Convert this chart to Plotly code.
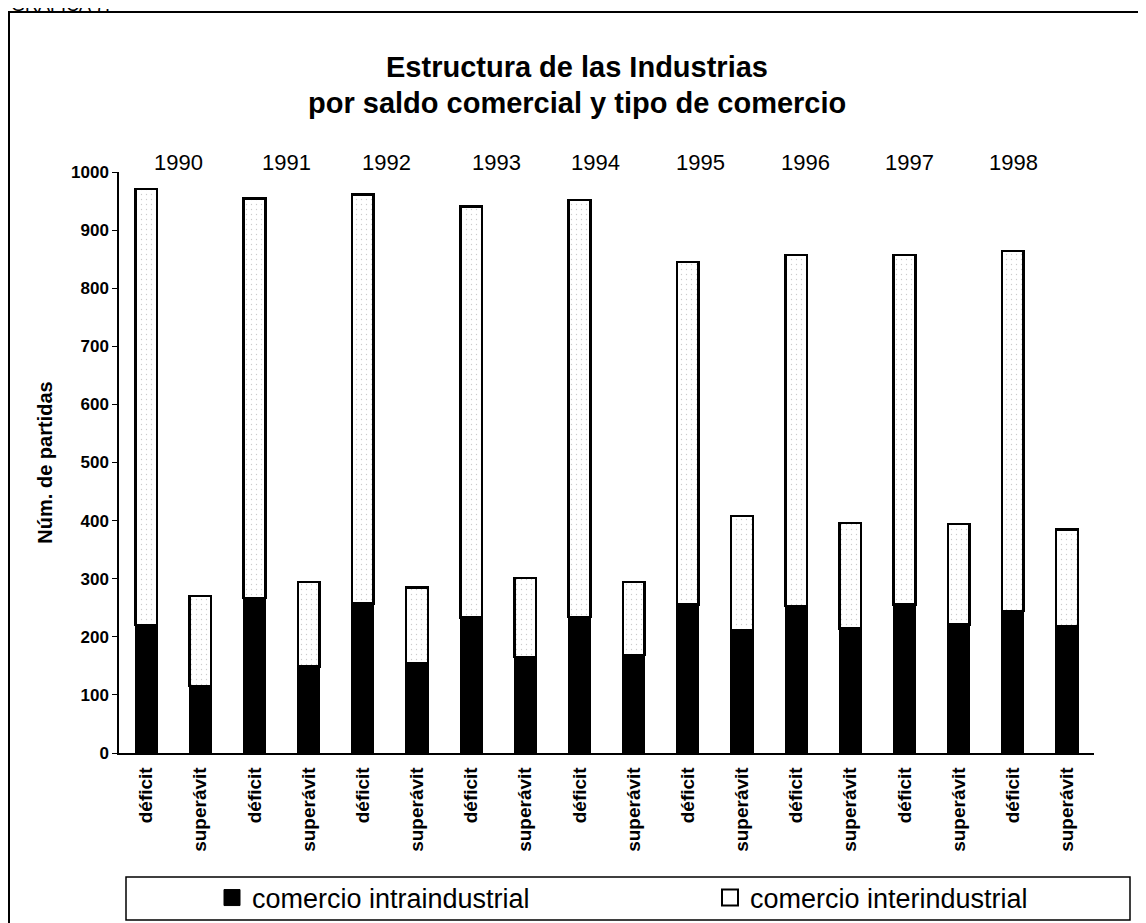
import plotly.graph_objects as go

years = ["1990", "1991", "1992", "1993", "1994", "1995", "1996", "1997", "1998"]
saldo = ["déficit", "superávit"]

# valores (número de partidas)
deficit_intra = [220, 267, 257, 233, 234, 256, 253, 256, 244]
deficit_inter = [751, 687, 704, 708, 718, 589, 604, 601, 620]
superavit_intra = [115, 149, 154, 165, 169, 211, 214, 221, 219]
superavit_inter = [155, 145, 131, 136, 125, 197, 182, 173, 166]

series_names = ["comercio intraindustrial", "comercio interindustrial"]
y_ticks = [0, 100, 200, 300, 400, 500, 600, 700, 800, 900, 1000]

FONT = "Arial, Liberation Sans, sans-serif"

# category order: déficit / superávit for each year
labels = []
intra = []
inter = []
for i in range(len(years)):
    labels += saldo
    intra += [deficit_intra[i], superavit_intra[i]]
    inter += [deficit_inter[i], superavit_inter[i]]
xpos = list(range(len(labels)))

# page is shown with an 8px body margin -> figure coords = page coords - 8
OFF = 8
W, H = 1146 - OFF, 923 - OFF
L, R, T, B = 119 - OFF, 1094 - OFF, 172 - OFF, 753 - OFF
pw, ph = R - L, B - T


def px_x(p):
    return (p - OFF - L) / pw


def px_y(p):
    return (B - (p - OFF)) / ph


fig = go.Figure()
fig.add_trace(go.Bar(
    x=xpos, y=intra, name=series_names[0], width=0.40, showlegend=False,
    marker=dict(color="black", line=dict(color="black", width=1.5)),
))
fig.add_trace(go.Bar(
    x=xpos, y=inter, name=series_names[1], width=0.40, showlegend=False,
    marker=dict(color="white", line=dict(color="black", width=2.5),
                pattern=dict(shape=".", fgcolor="#999999", bgcolor="white",
                             size=5, solidity=0.06, fillmode="overlay")),
))
# legend entries (square swatches)
fig.add_trace(go.Scatter(
    x=[None], y=[None], mode="markers", name=series_names[0], legend="legend",
    marker=dict(symbol="square", size=17, color="black", line=dict(color="black", width=1)),
))
fig.add_trace(go.Scatter(
    x=[None], y=[None], mode="markers", name=series_names[1], legend="legend2",
    marker=dict(symbol="square", size=16, color="white", line=dict(color="black", width=2)),
))

# year labels above the bars (x in category units)
year_offsets = [0.59, 0.59, 0.44, 0.46, 0.30, 0.24, 0.17, 0.09, 0.02]
annotations = []
for i, yr in enumerate(years):
    annotations.append(dict(
        x=2 * i + year_offsets[i], y=px_y(163), xref="x", yref="paper",
        text=yr, showarrow=False, xanchor="center", yanchor="middle",
        font=dict(family=FONT, size=22, color="black"),
    ))

# title
annotations.append(dict(
    x=px_x(577), y=px_y(67), xref="paper", yref="paper",
    text="<b>Estructura de las Industrias</b>", showarrow=False,
    xanchor="center", yanchor="middle",
    font=dict(family=FONT, size=29, color="black"),
))
annotations.append(dict(
    x=px_x(577), y=px_y(103), xref="paper", yref="paper",
    text="<b>por saldo comercial y tipo de comercio</b>", showarrow=False,
    xanchor="center", yanchor="middle",
    font=dict(family=FONT, size=29, color="black"),
))
# header cut at the top edge (as in the scan)
annotations.append(dict(
    x=px_x(9), y=px_y(5), xref="paper", yref="paper",
    text="GRÁFICA 7.", showarrow=False,
    xanchor="left", yanchor="middle",
    font=dict(family=FONT, size=18, color="black"),
))

shapes = [
    # outer frame (right and bottom edges fall outside the picture)
    dict(type="rect", xref="paper", yref="paper",
         x0=px_x(9), x1=px_x(1160), y0=px_y(940), y1=px_y(12),
         line=dict(color="black", width=2), fillcolor="rgba(0,0,0,0)", layer="below"),
    # legend box
    dict(type="rect", xref="paper", yref="paper",
         x0=px_x(126), x1=px_x(1130), y0=px_y(920), y1=px_y(877),
         line=dict(color="black", width=1.5), fillcolor="white", layer="below"),
]

legend_common = dict(
    orientation="h", yanchor="middle", xanchor="left",
    xref="paper", yref="paper",
    font=dict(family=FONT, size=27, color="black"),
    bgcolor="rgba(0,0,0,0)", borderwidth=0,
)

fig.update_layout(
    width=W, height=H,
    margin=dict(l=L, r=W - R, t=T, b=H - B, autoexpand=False),
    paper_bgcolor="white", plot_bgcolor="white",
    barmode="stack",
    font=dict(family=FONT, color="black"),
    showlegend=True,
    legend=dict(x=px_x(212), y=px_y(898), **legend_common),
    legend2=dict(x=px_x(710), y=px_y(898), **legend_common),
    xaxis=dict(
        range=[-0.5, len(labels) - 0.5],
        tickmode="array", tickvals=xpos, ticktext=labels,
        tickangle=-90, ticks="", ticklabelstandoff=5,
        tickfont=dict(family=FONT, size=19, color="black", weight="bold"),
        showline=True, linecolor="black", linewidth=1.5,
        showgrid=False, zeroline=False, fixedrange=True,
    ),
    xaxis2=dict(
        overlaying="x", anchor="y", side="bottom",
        range=[-0.5, len(labels) - 0.5],
        tickmode="array", tickvals=[i - 0.5 for i in range(len(labels) + 1)],
        ticks="outside", ticklen=5, tickcolor="black", tickwidth=1,
        showticklabels=False, showline=False, showgrid=False, zeroline=False,
    ),
    yaxis=dict(
        range=[0, 1000], tickmode="array", tickvals=y_ticks,
        ticks="outside", ticklen=5, tickcolor="black", tickwidth=1,
        tickfont=dict(family=FONT, size=17, color="black", weight="bold"),
        showline=True, linecolor="black", linewidth=1.5,
        showgrid=False, zeroline=False,
        title=dict(text="Núm. de partidas", standoff=13,
                   font=dict(family=FONT, size=20, color="black", weight="bold")),
    ),
    shapes=shapes,
    annotations=annotations,
)

fig.write_html("out.html")
